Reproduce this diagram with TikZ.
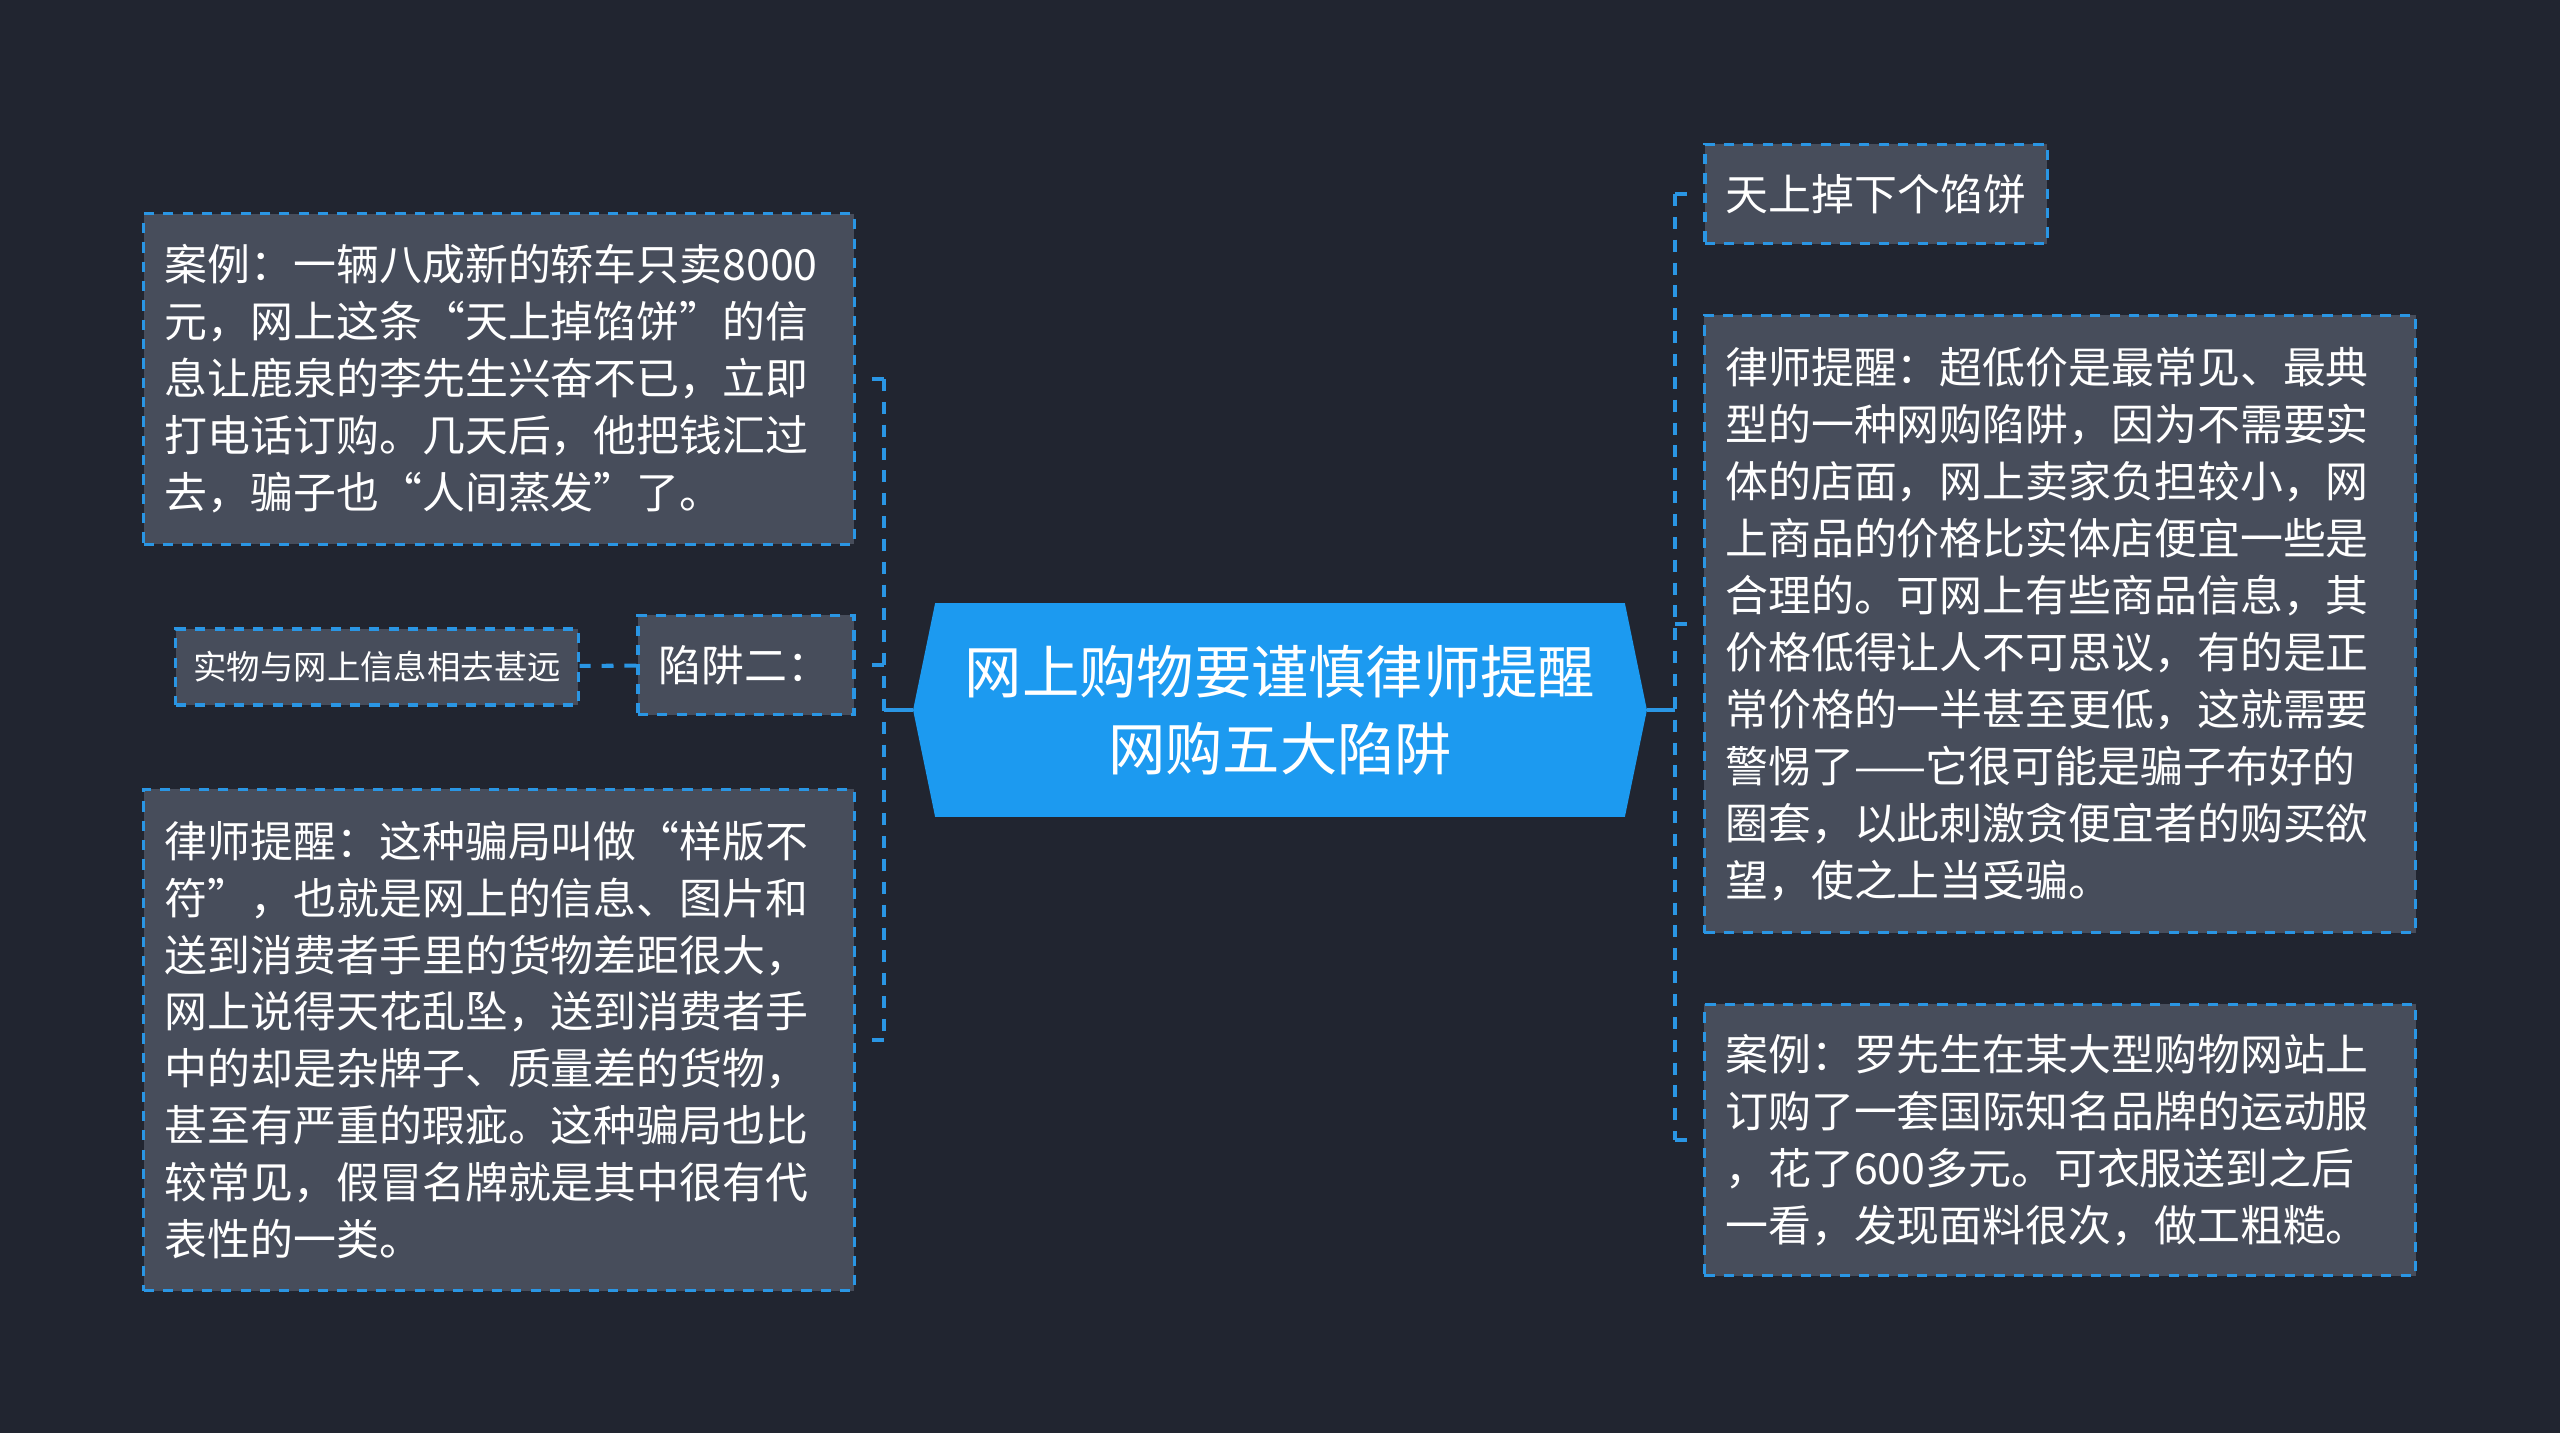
\documentclass[tikz,border=0pt]{standalone}
\usepackage{fontspec}
\newfontfamily\cjk{Noto Sans CJK SC}
\usetikzlibrary{backgrounds}
\definecolor{bgdark}{RGB}{33,37,48}
\definecolor{boxgray}{RGB}{71,77,91}
\definecolor{linkblue}{RGB}{42,150,228}
\definecolor{rootblue}{RGB}{28,154,240}
\begin{document}
\begin{tikzpicture}[x=0.01cm,y=-0.01cm,
  box/.style={draw=linkblue,line width=0.9pt,dash pattern=on 2.9pt off 2.6pt,fill=boxgray,text=white,
    font=\cjk\fontsize{12.2pt}{16.2pt}\selectfont,inner xsep=0.21cm,inner ysep=0.2cm,align=left},
  link/.style={linkblue,line width=1.15pt,dash pattern=on 3.4pt off 3.1pt},
  trunk/.style={linkblue,line width=1.15pt}]
% central topic
\node[text=white,font=\cjk\fontsize{16.3pt}{21.9pt}\selectfont,align=center,text width=6.32cm,
  inner xsep=0.5cm,inner ysep=0pt,minimum height=2.12cm] (root) at (1280,710)
  {网上购物要谨慎律师提醒\\网购五大陷阱};
% left branch
\node[box,text width=6.68cm,minimum height=3.30cm] (caseA) at (499,379)
  {案例：一辆八成新的轿车只卖8000\\元，网上这条“天上掉馅饼”的信\\息让鹿泉的李先生兴奋不已，立即\\打电话订购。几天后，他把钱汇过\\去，骗子也“人间蒸发”了。};
\node[box,text width=1.74cm,minimum height=0.99cm] (trap2) at (746,665)
  {陷阱二：};
\node[box,text width=3.67cm,inner xsep=0.175cm,inner ysep=0.1cm,minimum height=0.76cm,align=center,
  font=\cjk\fontsize{9.5pt}{12pt}\selectfont] (far) at (377,667)
  {实物与网上信息相去甚远};
\node[box,text width=6.68cm,minimum height=5.01cm] (tipA) at (499,1040)
  {律师提醒：这种骗局叫做“样版不\\符”，也就是网上的信息、图片和\\送到消费者手里的货物差距很大，\\网上说得天花乱坠，送到消费者手\\中的却是杂牌子、质量差的货物，\\甚至有严重的瑕疵。这种骗局也比\\较常见，假冒名牌就是其中很有代\\表性的一类。};
% right branch
\node[box,text width=3.00cm,minimum height=0.99cm] (pie) at (1876,194)
  {天上掉下个馅饼};
\node[box,text width=6.69cm,minimum height=6.17cm] (tipB) at (2060,624)
  {律师提醒：超低价是最常见、最典\\型的一种网购陷阱，因为不需要实\\体的店面，网上卖家负担较小，网\\上商品的价格比实体店便宜一些是\\合理的。可网上有些商品信息，其\\价格低得让人不可思议，有的是正\\常价格的一半甚至更低，这就需要\\警惕了——它很可能是骗子布好的\\圈套，以此刺激贪便宜者的购买欲\\望，使之上当受骗。};
\node[box,text width=6.69cm,minimum height=2.71cm] (caseB) at (2060,1140)
  {案例：罗先生在某大型购物网站上\\订购了一套国际知名品牌的运动服\\，花了600多元。可衣服送到之后\\一看，发现面料很次，做工粗糙。};
\begin{scope}[on background layer]
\fill[bgdark] (0,0) rectangle (2560,1433);
\fill[rootblue] (root.west) -- ([xshift=0.22cm]root.north west) -- ([xshift=-0.22cm]root.north east)
  -- (root.east) -- ([xshift=-0.22cm]root.south east) -- ([xshift=0.22cm]root.south west) -- cycle;
\end{scope}
% connectors
\coordinate (lj) at ([xshift=-0.29cm]root.west);
\coordinate (rj) at ([xshift=0.28cm]root.east);
\draw[trunk] (root.west) -- (lj);
\draw[trunk] (root.east) -- (rj);
\draw[link] (lj |- caseA.east) -- (lj |- tipA.east);
\draw[link] (rj |- pie.west) -- (rj |- caseB.west);
\foreach \n in {caseA,trap2,tipA} \draw[link,shorten >=0.14cm] (lj |- \n.east) -- (\n.east);
\foreach \n in {pie,tipB,caseB} \draw[link,shorten >=0.1cm] (rj |- \n.west) -- (\n.west);
\draw[link] (trap2) -- (far);
\end{tikzpicture}
\end{document}
